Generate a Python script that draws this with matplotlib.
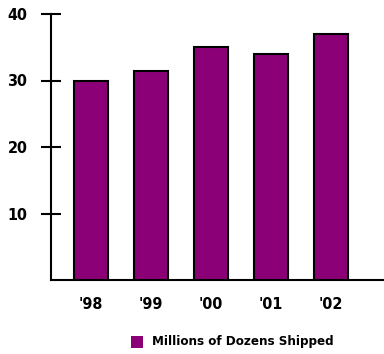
import matplotlib
matplotlib.use("Agg")
import matplotlib.pyplot as plt
from matplotlib.patches import Rectangle

categories = ["'98", "'99", "'00", "'01", "'02"]
values = [30, 31.5, 35, 34, 37]
yticks = [10, 20, 30, 40]
series_name = "Millions of Dozens Shipped"

plt.rcParams['font.family'] = ['DejaVu Sans']
plt.rcParams['font.stretch'] = 'condensed'

fig = plt.figure(figsize=(3.84, 3.54), dpi=100)
W, H = 384, 354
ax = fig.add_axes([51 / W, 1 - 280 / H, (384 - 51) / W, (280 - 14) / H])

color = '#8B0077'
x = list(range(len(categories)))
ax.bar(x, values, width=0.57, color=color, edgecolor='black', linewidth=1.5, zorder=3)

ax.set_xlim(-0.667, 4.88)
ax.set_ylim(0, 40)
ax.set_yticks(yticks)
ax.set_yticklabels([str(t) for t in yticks], fontsize=11.5, fontweight='bold',
                   fontstretch='condensed')
ax.set_xticks(x)
ax.set_xticklabels(categories, fontsize=11.5, fontweight='bold',
                   fontstretch='condensed')
ax.tick_params(axis='y', direction='inout', length=14, width=1.5, pad=10)
ax.tick_params(axis='x', length=0, pad=12)
for s in ['top', 'right']:
    ax.spines[s].set_visible(False)
for s in ['left', 'bottom']:
    ax.spines[s].set_linewidth(1.5)

# legend
fig.patches.append(Rectangle((131 / W, 1 - 348 / H), 12 / W, 12 / H,
                             transform=fig.transFigure, facecolor=color,
                             edgecolor='none'))
fig.text(152 / W, 1 - 341 / H, series_name, fontsize=9.5, fontweight='bold',
         fontstretch='condensed', va='center', ha='left')

fig.savefig('out.png', dpi=100)
